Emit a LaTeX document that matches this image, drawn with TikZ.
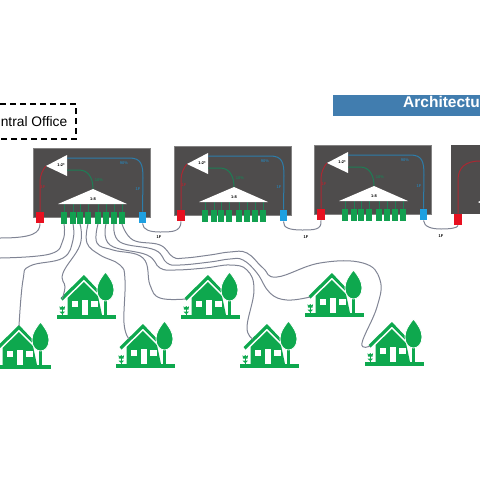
\documentclass[tikz,border=0pt]{standalone}
\usepackage{xcolor}
\usepackage{fontspec}
\setmainfont{Liberation Sans}
\usetikzlibrary{calc}
\definecolor{panelgray}{RGB}{78, 76, 76}
\definecolor{housegreen}{RGB}{14, 168, 78}
\definecolor{portgreen}{RGB}{18, 160, 80}
\definecolor{portred}{RGB}{232, 16, 32}
\definecolor{portblue}{RGB}{30, 160, 225}
\definecolor{fibreblue}{RGB}{45, 125, 170}
\definecolor{fibrered}{RGB}{170, 40, 50}
\definecolor{fibregreen}{RGB}{30, 125, 85}
\definecolor{fibregray}{RGB}{128, 132, 148}
\definecolor{bannerblue}{RGB}{65, 125, 175}
\tikzset{
    port/.style={minimum width=7.5pt, minimum height=11.5pt, inner sep=0pt, draw=none},
    fibre/.style={fibregray, line width=1pt},
    tiny label/.style={font=\fontsize{4}{5}\selectfont\bfseries, inner sep=0pt},
    house/.pic={
        \fill[housegreen] (0,-4.5) rectangle (58.5,0);
        % roof
        \fill[housegreen] (3.5,-21) -- (27,-44) -- (43,-27) -- (41.5,-25)
            -- (27,-39.5) -- (5.5,-18.5) -- cycle;
        % body
        \fill[housegreen] (10.5,-4) -- (10.5,-21) -- (27,-37) -- (41,-23)
            -- (45,-4) -- cycle;
        \fill[white] (14.5,-18.5) rectangle (21,-12);
        \fill[white] (34,-18.5) rectangle (40.5,-12);
        \fill[white] (24.5,-19) rectangle (30.5,-4);
        % tree
        \fill[housegreen] (47,-20) rectangle (50,-4);
        \fill[housegreen, draw=white, line width=0.8pt] (48.5,-47) .. controls (44,-41) and (40,-36) .. (40,-29)
            .. controls (40,-22) and (44,-18) .. (48.5,-18)
            .. controls (53,-18) and (57,-22) .. (57,-29)
            .. controls (57,-36) and (53,-41) .. (48.5,-47) -- cycle;
        % flower
        \fill[housegreen] (2.5,-13) -- (4,-11.5) -- (5.3,-13) -- (6.6,-11.5) -- (8,-13)
            -- (7.5,-9.5) -- (3,-9.5) -- cycle;
        \fill[housegreen] (4.8,-10) rectangle (5.7,-4);
        \fill[housegreen] (2.5,-7.5) -- (8,-7.5) -- (6,-5.5) -- (4.5,-5.5) -- cycle;
    },
}

\begin{document}
\begin{tikzpicture}[x=1pt, y=-1pt]
    \useasboundingbox (0,0) rectangle (480,480);
    % Banner and office box
    \fill[bannerblue] (333,95) rectangle (480,116);
    \node[white, font=\bfseries\fontsize{15.5}{17}\selectfont, anchor=west, inner sep=0pt] (banner) at (403,102) {Architectu};
    \draw[black, line width=1.6pt, dash pattern=on 6pt off 4pt] (0,104) -- (76,104) -- (76,139) -- (0,139);
    \node[font=\fontsize{13.8}{15}\selectfont, anchor=east, inner sep=0pt] (office) at (67.5,122) {ntral Office};
    % Splitter panels
    \foreach \n/\ox/\oy in {a/33/148, b/174/146, c/314/145} {
        \fill[panelgray] (\ox,\oy) rectangle +(117.5,69);
        \draw[panelgray!70, thin] (\ox,\oy) rectangle +(117.5,69);
        \begin{scope}[shift={(\ox,\oy)}]
            % Branch lines to the ports
            \foreach \p/\gx in {1/31, 2/40, 3/47, 4/55, 5/65, 6/73, 7/81, 8/89} {
                \node[port, fill=portgreen, minimum width=6.2pt] (\n g\p) at (\gx,70) {};
                \draw[fibregreen, very thin] (\gx,56) -- (\n g\p.north);
            }
            \node[port, fill=portred] (\n red) at (7,69.5) {};
            \node[port, fill=portblue] (\n blue) at (109.5,69.5) {};
            \fill[white] (13,18) -- (34,7) -- (34,28) -- cycle;
            \coordinate (\n tip) at (13,18);
            \coordinate (\n out) at (34,10);
            \coordinate (\n drop) at (34,22);
            \fill[white] (60,41) -- (94,56) -- (25,56) -- cycle;
            \coordinate (\n apex) at (60,41);
            \node[tiny label] (\n one) at (28,17) {1:2*};
            \node[tiny label] (\n two) at (60,51.5) {1:8};
            \node[tiny label, text=fibreblue] (\n pct) at (91,15) {90\%};
            \node[tiny label, text=fibregreen] (\n low) at (66,32) {10\%};
            \node[tiny label, text=fibreblue] (\n fa) at (105,41) {1F};
            \node[tiny label, text=fibrered] (\n fb) at (10,39) {1F};
            \coordinate (\n corner) at (110,30);
        \end{scope}
        \draw[fibrered, line width=1pt] (\n red.north) -- ($(\n red.north)+(0,-30)$)
            .. controls +(0,-6) and +(-3,3) .. (\n tip);
        \draw[fibreblue, line width=1pt] (\n out) -- ($(\n out)+(62,0)$)
            .. controls +(12,0) and +(0,-14) .. (\n corner) -- (\n blue.north);
        \draw[fibregreen, line width=1pt] (\n drop) -- ($(\n drop)+(12,0)$)
            .. controls +(10,0) and +(0,-10) .. (\n apex);
    }
    % Cut off panel on the right
    \fill[panelgray] (451,145) rectangle (480,214);
    \fill[white] (480,201) -- (478,202) -- (480,203) -- cycle;
    \node[port, fill=portred] (dred) at (458,219.5) {};
    \coordinate (dout) at (480,161);
    \draw[fibrered, line width=1pt] (dred.north) -- (458,180)
        .. controls (458,168) and (465,161) .. (dout);
    % Links between the panels
    \coordinate (west) at (0,238);
    \draw[fibre] (ared.south) .. controls (40,233) and (33,238) .. (west);
    \draw[fibre] (ablue.south) .. controls (143,230) and (150,232) .. (160,232)
        .. controls (172,232) and (181,232) .. (bred.south);
    \draw[fibre] (bblue.south) .. controls (283,228) and (290,230) .. (302,230)
        .. controls (314,230) and (322,230) .. (cred.south);
    \draw[fibre] (cblue.south) .. controls (424,227) and (432,229) .. (441,229)
        .. controls (450,229) and (458,228) .. (dred.south);
    \node[tiny label] (fa) at (159,237) {1F};
    \node[tiny label] (fb) at (306,237) {1F};
    \node[tiny label] (fc) at (441,236) {1F};
    % Houses
    \foreach \h/\hx/\hy in {h1/-8/369, h2/57/319, h3/116/368, h4/181/319, h5/240/368, h6/305/317, h7/365/366} {
        \pic (\h) at (\hx,\hy) {house};
        \coordinate (\h top) at ($(\hx,\hy)+(27,-43)$);
        \coordinate (\h eave) at ($(\hx,\hy)+(13,-29)$);
        \coordinate (\h low) at ($(\hx,\hy)+(5,-20)$);
    }
    % Drop fibres to the houses
    \coordinate (west2) at (0,258);
    \draw[fibre] plot[smooth, tension=0.7] coordinates {(ag1.south) (63,240) (50,254) (west2)};
    \draw[fibre] plot[smooth, tension=0.7] coordinates {(ag2.south) (73,240) (63,258) (30,266) (23,280) (h1top)};
    \draw[fibre] plot[smooth, tension=0.7] coordinates {(ag3.south) (80,245) (63,273) (65,287) (h2low)};
    \draw[fibre] plot[smooth, tension=0.7] coordinates {(ag4.south) (87,243) (100,255) (120,265) (125,280) (124,323) (h3eave)};
    \draw[fibre] plot[smooth, tension=0.7] coordinates {(ag5.south) (97,243) (113,250) (143,258) (150,285) (160,298) (h4low)};
    \draw[fibre] plot[smooth, tension=0.7] coordinates {(ag6.south) (110,245) (147,255) (160,268) (175,270) (205,268) (230,265) (247,270) (254,290) (247,327) (h5eave)};
    \draw[fibre] plot[smooth, tension=0.7] coordinates {(ag7.south) (120,242) (155,250) (167,263) (180,265) (210,262) (230,259) (243,260) (257,273) (270,293) (287,300) (h6low)};
    \draw[fibre] plot[smooth, tension=0.7] coordinates {(ag8.south) (133,240) (160,245) (173,257) (185,258) (210,255) (230,252) (247,253) (263,268) (277,277) (320,263) (363,263) (380,280) (377,307) (362,343) (h7low)};
\end{tikzpicture}
\end{document}
